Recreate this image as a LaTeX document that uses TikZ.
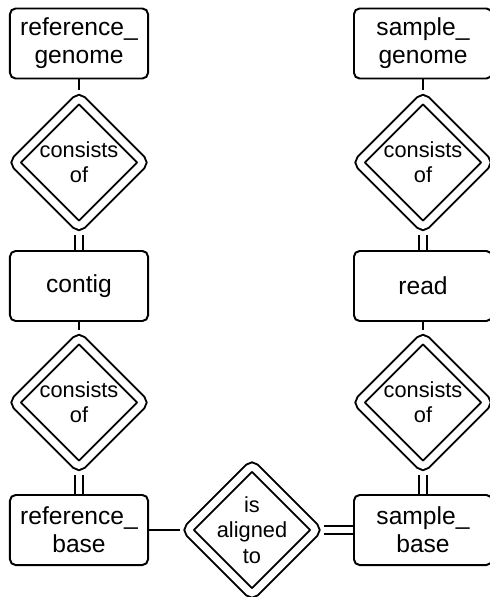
\documentclass[tikz,border=0pt]{standalone}
\usepackage{fontspec}
\setmainfont{Liberation Sans}
\usetikzlibrary{shapes.geometric}

\begin{document}
\begin{tikzpicture}[x=0.025cm, y=-0.025cm, line width=1.4pt,
    entity/.style={draw, rounded corners=4pt, minimum width=3.45cm, minimum height=1.75cm, align=center, font=\fontsize{17.5}{20}\selectfont},
    rel/.style={draw, diamond, double, double distance=5pt, rounded corners=3pt, minimum width=3.34cm, minimum height=3.34cm, inner sep=-6pt, outer sep=3.9pt, align=center, font=\fontsize{15.5}{18}\selectfont},
    dbl/.style={double, double distance=4.3pt}]
    \useasboundingbox (0,0) rectangle (490,597);

    \node[entity] (refgen) at (79,43.5) {reference\_\\genome};
    \node[rel] (refcons) at (79,162.5) {consists\\of};
    \node[entity] (contig) at (79,286) {contig};
    \node[rel] (contigcons) at (79,402.5) {consists\\of};
    \node[entity] (refbase) at (79,530) {reference\_\\base};

    \node[entity] (samgen) at (423,43.5) {sample\_\\genome};
    \node[rel] (samcons) at (423,162.5) {consists\\of};
    \node[entity] (read) at (423,286) {read};
    \node[rel] (readcons) at (423,402.5) {consists\\of};
    \node[entity] (sambase) at (423,530) {sample\_\\base};

    \node[rel] (aligned) at (252,530) {is\\aligned\\to};

    \draw (refgen) -- (refcons);
    \draw[dbl] (refcons) -- (contig);
    \draw (contig) -- (contigcons);
    \draw[dbl] (contigcons) -- (refbase);

    \draw (samgen) -- (samcons);
    \draw[dbl] (samcons) -- (read);
    \draw (read) -- (readcons);
    \draw[dbl] (readcons) -- (sambase);

    \draw (refbase) -- (aligned);
    \draw[dbl] (aligned) -- (sambase);
  \end{tikzpicture}
\end{document}
